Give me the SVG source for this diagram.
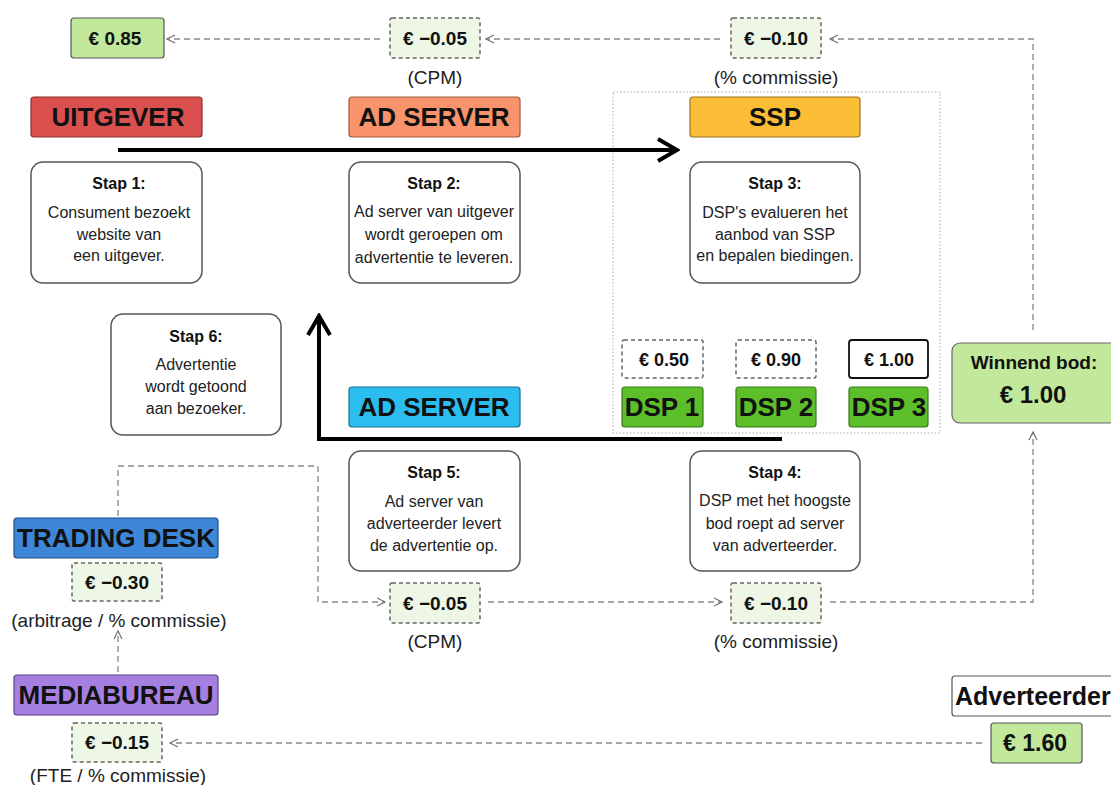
<svg xmlns="http://www.w3.org/2000/svg" width="1111" height="785" viewBox="0 0 1111 785">
<defs>
<style>
text{font-family:"Liberation Sans",Arial,sans-serif;fill:#111;text-anchor:middle}
.lbl{font-size:26px;font-weight:bold}
.val{font-size:19px;font-weight:bold}
.bid{font-size:18px;font-weight:bold}
.note{font-size:19px;fill:#222}
.st{font-size:16px;font-weight:bold}
.sb{font-size:16px;fill:#222}
.step{fill:#fff;stroke:#555;stroke-width:1.5}
.dv{fill:#eef7e6;stroke:#666;stroke-width:1.5;stroke-dasharray:4 3}
.dw{fill:#fff;stroke:#666;stroke-width:1.5;stroke-dasharray:4 3}
.sv{fill:#c2e89c;stroke:#555;stroke-width:1.2}
.dash{fill:none;stroke:#888;stroke-width:1.3;stroke-dasharray:6 4}
.thick{fill:none;stroke:#000;stroke-width:4}
</style>
<marker id="oa" viewBox="0 0 10 10" refX="9" refY="5" markerWidth="10" markerHeight="10" markerUnits="userSpaceOnUse" orient="auto">
<path d="M1,1 L9,5 L1,9" fill="none" stroke="#777" stroke-width="1.3"/>
</marker>
<marker id="ta" viewBox="0 0 30 30" refX="27" refY="15" markerWidth="30" markerHeight="30" markerUnits="userSpaceOnUse" orient="auto">
<path d="M8,4 L27,15 L8,26" fill="none" stroke="#000" stroke-width="4"/>
</marker>
</defs>
<rect width="1111" height="785" fill="#fff"/>

<g id="connectors">
<rect x="613" y="92" width="327" height="341" fill="none" stroke="#aaa" stroke-width="1" stroke-dasharray="1.5 2"/>
<path class="dash" d="M380,39 L167,39" marker-end="url(#oa)"/>
<path class="dash" d="M720,39 L486,39" marker-end="url(#oa)"/>
<path class="dash" d="M1033,330 L1033,39 L830,39" marker-end="url(#oa)"/>
<path class="dash" d="M118,516 L118,466 L318,466 L318,602 L385,602" marker-end="url(#oa)"/>
<path class="dash" d="M488,602 L722,602" marker-end="url(#oa)"/>
<path class="dash" d="M830,602 L1033,602 L1033,432" marker-end="url(#oa)"/>
<path class="dash" d="M118,672 L118,631" marker-end="url(#oa)"/>
<path class="dash" d="M982,743 L170,743" marker-end="url(#oa)"/>
<path class="thick" d="M118,150 L677,150" marker-end="url(#ta)"/>
<path class="thick" d="M782,439 L319,439 L319,316" marker-end="url(#ta)"/>
</g>

<g id="v085"><rect class="sv" x="71" y="18" width="93" height="40" rx="3"/><text class="val" x="115" y="45">€ 0.85</text></g>
<g id="v005top"><rect class="dv" x="390" y="18" width="90" height="40" rx="2"/><text class="val" x="435" y="45">€ −0.05</text><text class="note" x="435" y="84">(CPM)</text></g>
<g id="v010top"><rect class="dv" x="731" y="18" width="90" height="40" rx="2"/><text class="val" x="776" y="45">€ −0.10</text><text class="note" x="776" y="84">(% commissie)</text></g>

<g id="uitgever"><rect x="31" y="97" width="171" height="40" rx="3" fill="#d9504f" stroke="#8a3030" stroke-width="1.2"/><text class="lbl" x="118" y="126">UITGEVER</text></g>
<g id="adserver1"><rect x="349" y="97" width="171" height="40" rx="3" fill="#f8936b" stroke="#a05a3a" stroke-width="1.2"/><text class="lbl" x="434" y="126">AD SERVER</text></g>
<g id="ssp"><rect x="690" y="97" width="170" height="40" rx="3" fill="#fbbd35" stroke="#9a7420" stroke-width="1.2"/><text class="lbl" x="775" y="126">SSP</text></g>

<g id="stap1"><rect class="step" x="31" y="162" width="171" height="121" rx="12"/><text class="st" x="119" y="189">Stap 1:</text><text class="sb" x="119" y="218">Consument bezoekt</text><text class="sb" x="119" y="240">website van</text><text class="sb" x="119" y="261">een uitgever.</text></g>
<g id="stap2"><rect class="step" x="349" y="162" width="171" height="121" rx="12"/><text class="st" x="434" y="189">Stap 2:</text><text class="sb" x="434" y="217">Ad server van uitgever</text><text class="sb" x="434" y="240">wordt geroepen om</text><text class="sb" x="434" y="263">advertentie te leveren.</text></g>
<g id="stap3"><rect class="step" x="690" y="162" width="170" height="121" rx="12"/><text class="st" x="775" y="189">Stap 3:</text><text class="sb" x="775" y="218">DSP's evalueren het</text><text class="sb" x="775" y="240">aanbod van SSP</text><text class="sb" x="775" y="261">en bepalen biedingen.</text></g>
<g id="stap6"><rect class="step" x="111" y="314" width="170" height="121" rx="12"/><text class="st" x="196" y="342">Stap 6:</text><text class="sb" x="196" y="370">Advertentie</text><text class="sb" x="196" y="392">wordt getoond</text><text class="sb" x="196" y="414">aan bezoeker.</text></g>

<g id="bid1"><rect class="dw" x="622" y="340" width="81" height="38" rx="2"/><text class="bid" x="664" y="366">€ 0.50</text></g>
<g id="bid2"><rect class="dw" x="736" y="340" width="80" height="38" rx="2"/><text class="bid" x="776" y="366">€ 0.90</text></g>
<g id="bid3"><rect x="849" y="340" width="79" height="38" rx="3" fill="#fff" stroke="#111" stroke-width="1.8"/><text class="bid" x="889" y="366">€ 1.00</text></g>
<g id="dsp1"><rect x="622" y="387" width="81" height="40" rx="3" fill="#5cbf2a" stroke="#3a7a1a" stroke-width="1.2"/><text class="lbl" x="662" y="416">DSP 1</text></g>
<g id="dsp2"><rect x="736" y="387" width="80" height="40" rx="3" fill="#5cbf2a" stroke="#3a7a1a" stroke-width="1.2"/><text class="lbl" x="776" y="416">DSP 2</text></g>
<g id="dsp3"><rect x="849" y="387" width="79" height="40" rx="3" fill="#5cbf2a" stroke="#3a7a1a" stroke-width="1.2"/><text class="lbl" x="889" y="416">DSP 3</text></g>

<g id="winnend"><rect x="952" y="343" width="170" height="80" rx="8" fill="#c2e89c" stroke="#666" stroke-width="1.2"/><text x="1034" y="369" style="font-size:19px;font-weight:bold">Winnend bod:</text><text x="1033" y="403" style="font-size:24px;font-weight:bold">€ 1.00</text></g>

<g id="adserver2"><rect x="349" y="387" width="171" height="40" rx="3" fill="#2cbdef" stroke="#1a6f90" stroke-width="1.2"/><text class="lbl" x="434" y="416">AD SERVER</text></g>

<g id="stap5"><rect class="step" x="349" y="451" width="171" height="120" rx="12"/><text class="st" x="434" y="478">Stap 5:</text><text class="sb" x="434" y="507">Ad server van</text><text class="sb" x="434" y="529">adverteerder levert</text><text class="sb" x="434" y="551">de advertentie op.</text></g>
<g id="stap4"><rect class="step" x="690" y="451" width="170" height="120" rx="12"/><text class="st" x="775" y="478">Stap 4:</text><text class="sb" x="775" y="506">DSP met het hoogste</text><text class="sb" x="775" y="529">bod roept ad server</text><text class="sb" x="775" y="551">van adverteerder.</text></g>

<g id="v005bot"><rect class="dv" x="390" y="583" width="90" height="40" rx="2"/><text class="val" x="435" y="610">€ −0.05</text><text class="note" x="435" y="648">(CPM)</text></g>
<g id="v010bot"><rect class="dv" x="731" y="583" width="90" height="40" rx="2"/><text class="val" x="776" y="610">€ −0.10</text><text class="note" x="776" y="648">(% commissie)</text></g>

<g id="tradingdesk"><rect x="14" y="518" width="204" height="40" rx="3" fill="#3d86d8" stroke="#234f85" stroke-width="1.2"/><text class="lbl" x="116" y="547">TRADING DESK</text></g>
<g id="v030"><rect class="dv" x="72" y="563" width="90" height="38" rx="2"/><text class="val" x="117" y="589">€ −0.30</text><text class="note" x="119" y="627">(arbitrage / % commissie)</text></g>
<g id="mediabureau"><rect x="14" y="675" width="204" height="40" rx="3" fill="#a680e0" stroke="#5a4085" stroke-width="1.2"/><text class="lbl" x="116" y="704">MEDIABUREAU</text></g>
<g id="v015"><rect class="dv" x="72" y="723" width="90" height="39" rx="2"/><text class="val" x="117" y="749">€ −0.15</text><text class="note" x="118" y="782">(FTE / % commissie)</text></g>

<g id="adverteerder"><rect x="952" y="676" width="170" height="40" rx="3" fill="#fff" stroke="#555" stroke-width="1.2"/><text x="955" y="705" style="font-size:25px;font-weight:bold;text-anchor:start">Adverteerder</text></g>
<g id="v160"><rect class="sv" x="991" y="723" width="91" height="40" rx="3"/><text x="1035" y="751" style="font-size:23px;font-weight:bold">€ 1.60</text></g>
</svg>
